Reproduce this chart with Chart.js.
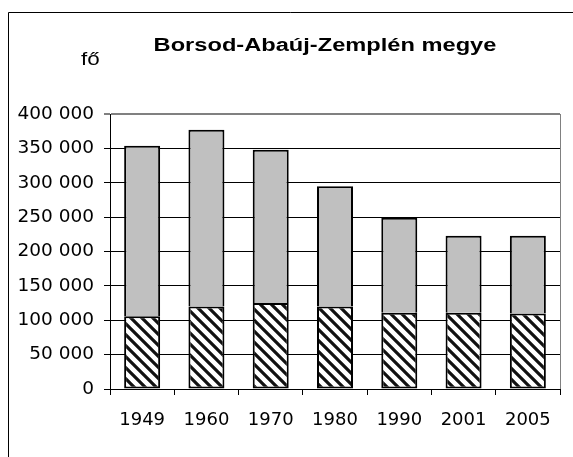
<!DOCTYPE html>
<html><head><meta charset="utf-8">
<script src="https://cdn.jsdelivr.net/npm/chart.js@4.4.0/dist/chart.umd.min.js"></script>
<style>html,body{margin:0;padding:0;background:#fff}#wrap{width:573px;height:457px}</style>
</head><body><div id="wrap"><canvas id="c" width="573" height="457"></canvas></div>
<script>
const categories = ['1949','1960','1970','1980','1990','2001','2005'];
const lowerValues = [106000,120000,125000,120000,111000,111000,110000];
const upperValues = [248000,257000,223000,175000,138000,112000,113000];
const yTickLabels = ['0','50 000','100 000','150 000','200 000','250 000','300 000','350 000','400 000'];
const TITLE = 'Borsod-Abaúj-Zemplén megye';
const UNIT = 'fő';

function hatch(){
  const s = 11;
  const c = document.createElement('canvas'); c.width = s; c.height = s;
  const x = c.getContext('2d');
  x.fillStyle = '#fff'; x.fillRect(0,0,s,s);
  x.strokeStyle = '#111'; x.lineWidth = 3.2;
  x.beginPath();
  for (let k=-1;k<=1;k++){ x.moveTo(k*s-2,-2); x.lineTo(k*s+s+2,s+2); }
  x.stroke();
  return x.createPattern(c,'repeat');
}

const deco = {
  id:'deco',
  beforeDraw(chart){
    const ctx = chart.ctx;
    ctx.save();
    ctx.fillStyle = '#fff'; ctx.fillRect(0,0,chart.width,chart.height);
    ctx.strokeStyle = '#000'; ctx.lineWidth = 1;
    ctx.beginPath();
    ctx.moveTo(8.5, chart.height); ctx.lineTo(8.5, 12.5); ctx.lineTo(chart.width, 12.5);
    ctx.stroke();
    ctx.restore();
  },
  afterDraw(chart){
    const ctx = chart.ctx, a = chart.chartArea;
    ctx.save();
    ctx.strokeStyle = '#808080'; ctx.lineWidth = 1;
    ctx.beginPath(); ctx.moveTo(a.right+0.5, a.top); ctx.lineTo(a.right+0.5, a.bottom); ctx.stroke();
    ctx.fillStyle = '#000';
    ctx.font = 'bold 18.7px "Liberation Sans", Arial, sans-serif';
    ctx.textAlign = 'center'; ctx.textBaseline = 'alphabetic';
    ctx.translate(325, 50.7); ctx.scale(1.265, 1);
    ctx.fillText(TITLE, 0, 0);
    ctx.restore();
    ctx.save();
    ctx.fillStyle = '#000';
    ctx.font = '18.7px "Liberation Sans", Arial, sans-serif';
    ctx.textAlign = 'left'; ctx.textBaseline = 'alphabetic';
    ctx.translate(81, 65); ctx.scale(1.2, 1);
    ctx.fillText(UNIT, 0, 0);
    ctx.restore();
  }
};

const pat = hatch();
new Chart(document.getElementById('c'), {
  type:'bar',
  data:{
    labels: categories,
    datasets:[
      {data: lowerValues, backgroundColor: pat, borderColor:'#000', borderWidth:2, borderSkipped:false, barPercentage:0.56, categoryPercentage:1},
      {data: upperValues, backgroundColor:'#c0c0c0', borderColor:'#000', borderWidth:2, borderSkipped:'start', barPercentage:0.56, categoryPercentage:1}
    ]
  },
  options:{
    responsive:false, animation:false,
    layout:{padding:{top:114,left:0,right:13,bottom:0}},
    plugins:{legend:{display:false}, title:{display:false}, tooltip:{enabled:false}},
    scales:{
      x:{
        stacked:true, offset:true,
        grid:{offset:true, drawOnChartArea:false, drawTicks:true, tickLength:6, color:'#000', lineWidth:1},
        border:{display:true, color:'#000', width:1},
        ticks:{font:{family:'DejaVu Sans', size:18}, color:'#000', padding:15, maxRotation:0, autoSkip:false},
        afterFit(s){ s.height = 68; }
      },
      y:{
        stacked:true, min:0, max:400000,
        ticks:{stepSize:50000, callback:(v,i)=>yTickLabels[i], font:{family:'DejaVu Sans', size:18.5}, color:'#000', padding:10},
        grid:{
          color:(c)=> (c.tick && c.tick.value===400000) ? '#808080' : '#000',
          lineWidth:(c)=> (c.tick && c.tick.value===400000) ? 2 : 1,
          tickColor:'#000', tickWidth:1, tickLength:6
        },
        border:{display:true, color:'#000', width:1},
        afterFit(s){ s.width = 110; }
      }
    }
  },
  plugins:[deco]
});
</script>
</body></html>
